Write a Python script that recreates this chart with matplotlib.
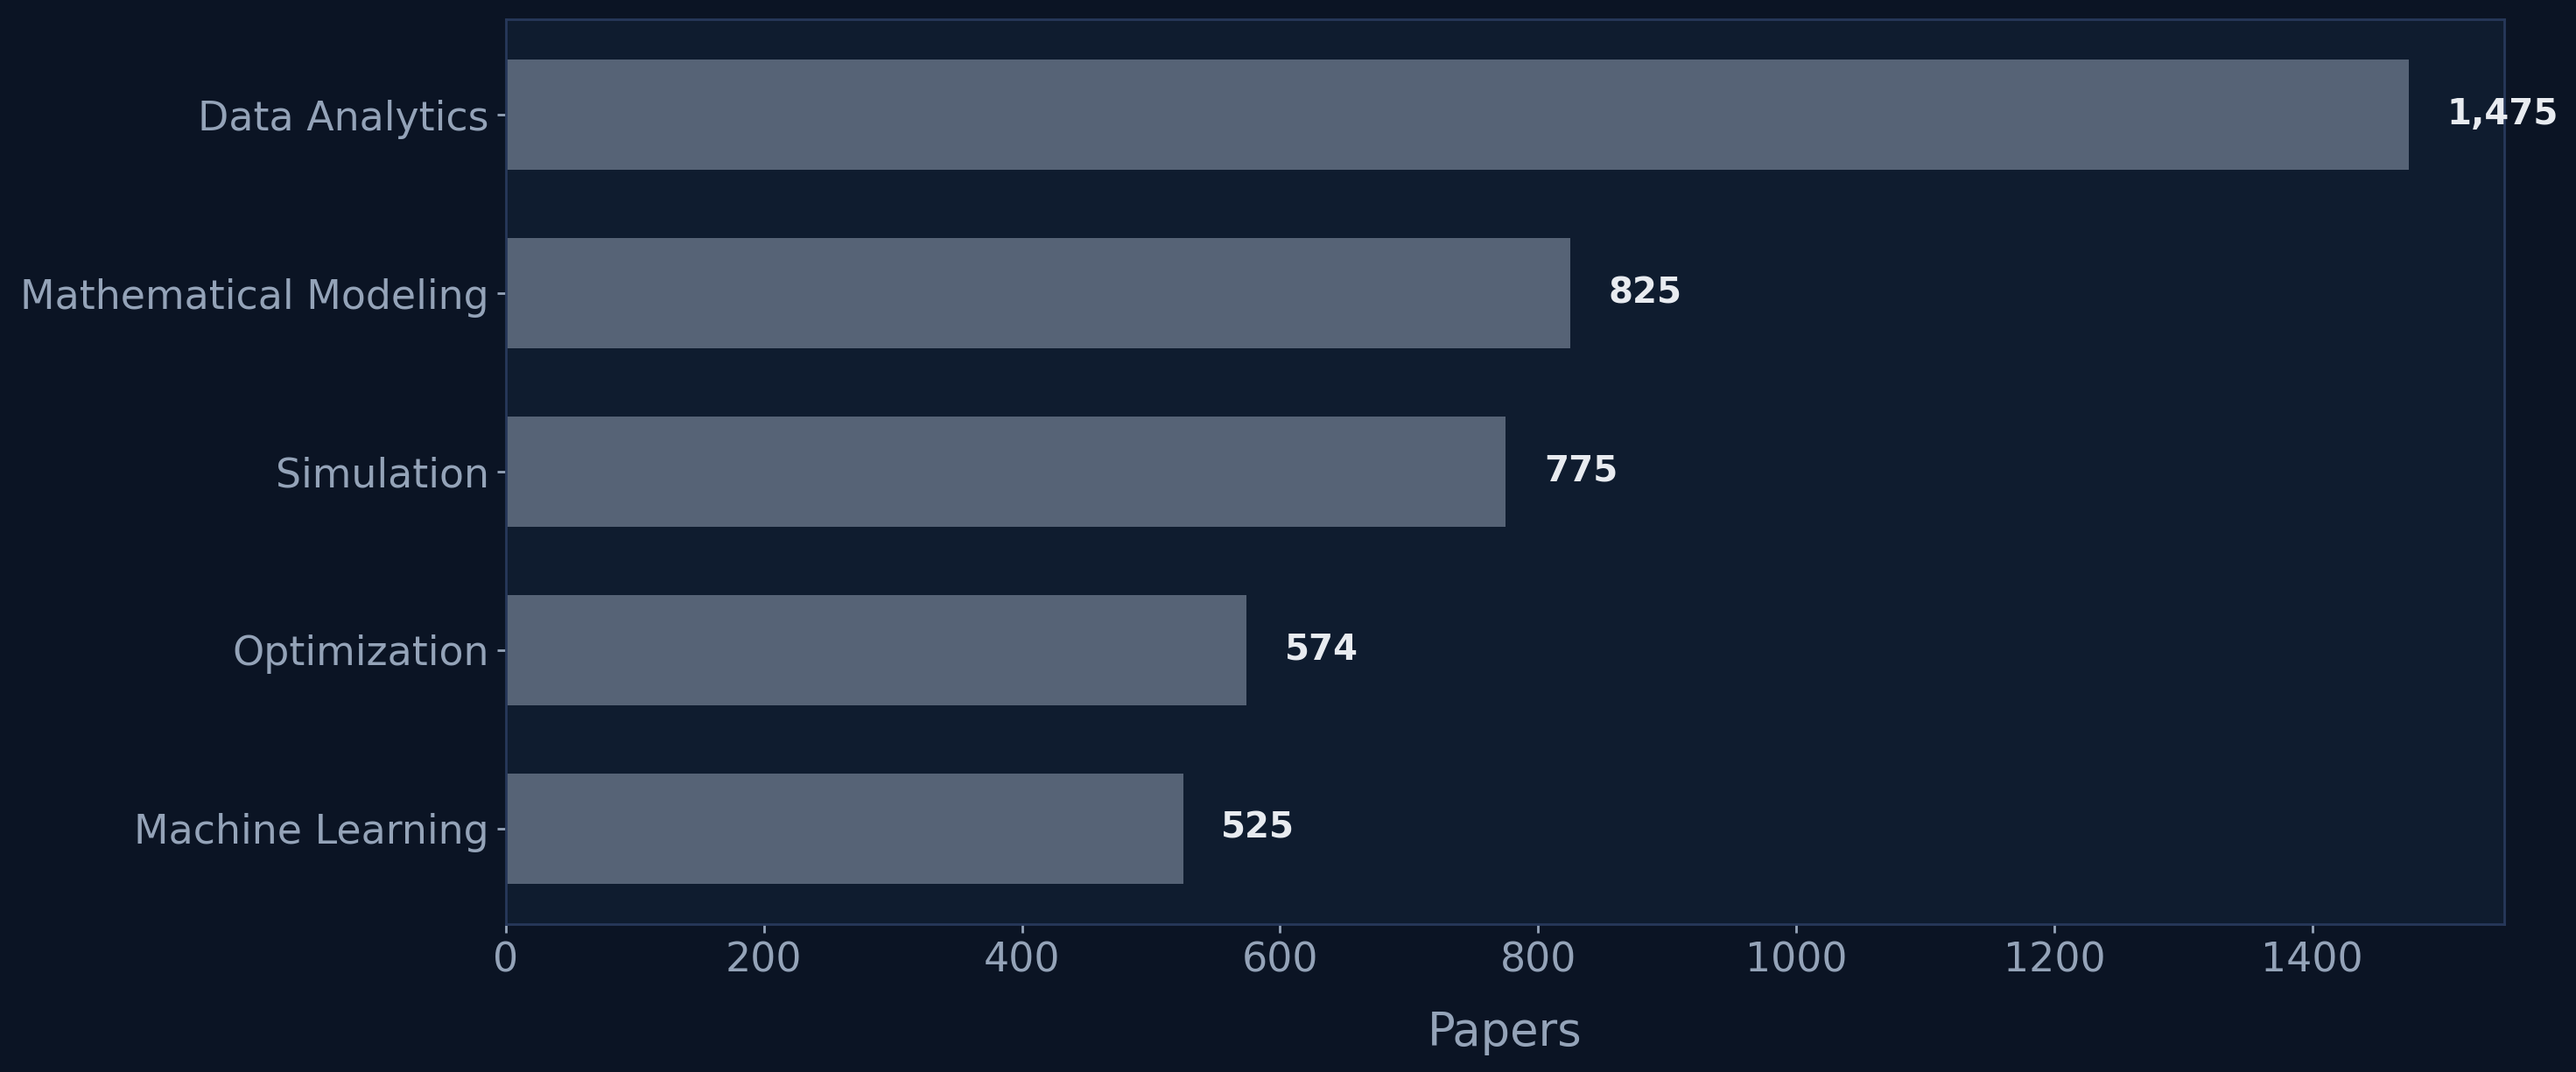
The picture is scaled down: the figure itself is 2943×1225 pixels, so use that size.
import matplotlib
matplotlib.use("Agg")
import matplotlib.pyplot as plt

categories = ["Data Analytics", "Mathematical Modeling", "Simulation",
              "Optimization", "Machine Learning"]
papers = [1475, 825, 775, 574, 525]

fig_bg = "#0b1424"
ax_bg = "#0f1c2f"
bar_color = "#566376"
text_color = "#94a3b8"
value_color = "#e8ebf0"
spine_color = "#27385a"

fig = plt.figure(figsize=(14.715, 6.125), dpi=200, facecolor=fig_bg)
ax = fig.add_axes([0.1964, 0.138, 0.7757, 0.844])
ax.set_facecolor(ax_bg)

y = list(range(len(categories)))
ax.barh(y, papers, height=0.62, color=bar_color)
ax.set_yticks(y)
ax.set_yticklabels(categories)
ax.invert_yaxis()
ax.set_xlim(0, max(papers) * 1.05)
ax.set_ylim(4.535, -0.535)

for yi, v in zip(y, papers):
    ax.text(v + max(papers) * 0.02, yi, f"{v:,}", va="center", ha="left",
            fontsize=14.5, fontweight="bold", color=value_color, clip_on=False)

ax.set_xlabel("Papers", fontsize=19, color=text_color, labelpad=12)
ax.tick_params(axis="both", colors=text_color, labelsize=16.5, length=3.5, width=1)
for s in ax.spines.values():
    s.set_color(spine_color)
    s.set_linewidth(1.0)

fig.savefig("out.png", dpi=200, facecolor=fig_bg)
